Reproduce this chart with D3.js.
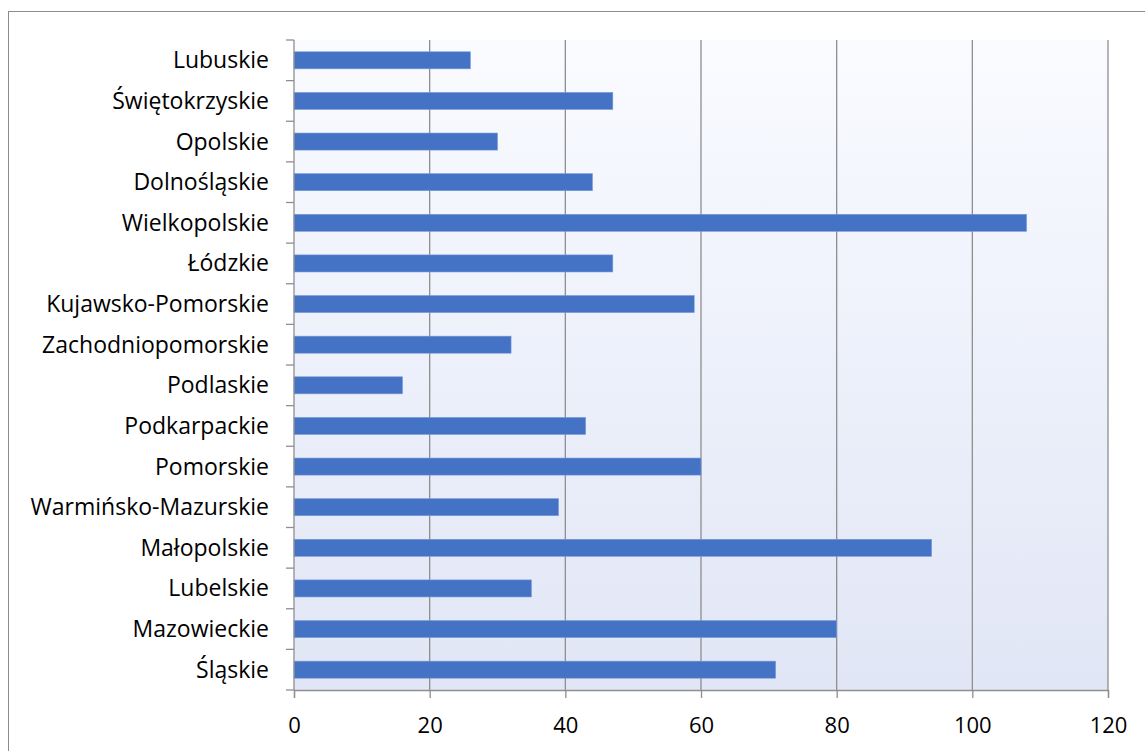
<!DOCTYPE html>
<html>
<head>
<meta charset="utf-8">
<script src="https://cdn.jsdelivr.net/npm/d3@7"></script>
<style>
  body { margin: 0; background: #fff; }
  svg { display: block; }
</style>
</head>
<body>
<svg id="BarChart"></svg>
<script>
// województwa, od góry do dołu
var regions = ["Lubuskie", "Świętokrzyskie", "Opolskie", "Dolnośląskie", "Wielkopolskie", "Łódzkie",
               "Kujawsko-Pomorskie", "Zachodniopomorskie", "Podlaskie", "Podkarpackie", "Pomorskie",
               "Warmińsko-Mazurskie", "Małopolskie", "Lubelskie", "Mazowieckie", "Śląskie"]
var counts = [26, 47, 30, 44, 108, 47, 59, 32, 16, 43, 60, 39, 94, 35, 80, 71]
var xTicks = [0, 20, 40, 60, 80, 100, 120]

var data = regions.map((r, i) => ({ region: r, value: counts[i] }))

var dimensions = {
    width: 1145,
    height: 751,
    margin: { top: 40, bottom: 61, left: 294, right: 37 }
}

var svg = d3.select("#BarChart")
            .attr("width", dimensions.width)
            .attr("height", dimensions.height)

var fontFamily = "'Open Sans', sans-serif"

// outer frame
svg.append("rect")
   .attr("x", 8.5).attr("y", 11.5)
   .attr("width", dimensions.width + 20).attr("height", dimensions.height + 20)
   .attr("fill", "white")
   .attr("stroke", "#8c8c8c")
   .attr("stroke-width", 1)

var x0 = dimensions.margin.left
var x1 = dimensions.width - dimensions.margin.right
var y0 = dimensions.margin.top
var y1 = dimensions.height - dimensions.margin.bottom

var xScale = d3.scaleLinear()
               .domain([0, 120])
               .range([x0, x1])

var yScale = d3.scaleBand()
               .domain(regions)
               .range([y0, y1])
               .paddingInner(0.58)
               .paddingOuter(0.29)

// plot background gradient
var grad = svg.append("defs").append("linearGradient")
              .attr("id", "bg").attr("x1", 0).attr("y1", 0).attr("x2", 0).attr("y2", 1)
grad.append("stop").attr("offset", "0%").attr("stop-color", "#f9fbff")
grad.append("stop").attr("offset", "100%").attr("stop-color", "#e1e6f6")

svg.append("rect")
   .attr("x", x0).attr("y", y0)
   .attr("width", x1 - x0).attr("height", y1 - y0)
   .attr("fill", "url(#bg)")

// vertical gridlines
svg.append("g")
   .selectAll("line")
   .data(xTicks.slice(1))
   .enter()
   .append("line")
   .attr("x1", d => xScale(d)).attr("x2", d => xScale(d))
   .attr("y1", y0).attr("y2", y1)
   .attr("stroke", "#8e8e8e")
   .attr("stroke-width", 1.3)

var bars = svg.append("g")
              .selectAll("rect")
              .data(data)
              .enter()
              .append("rect")
              .attr("x", xScale(0))
              .attr("y", d => yScale(d.region))
              .attr("width", d => xScale(d.value) - xScale(0))
              .attr("height", yScale.bandwidth())
              .attr("fill", "#4472c4")
              .attr("stroke", "#7c9ad6")
              .attr("stroke-width", 0.6)

// x axis
var xAxisGen = d3.axisBottom(xScale).tickValues(xTicks).tickSize(8).tickPadding(19)
var xAxis = svg.append("g")
               .attr("transform", `translate(0,${y1})`)
               .call(xAxisGen)
xAxis.select(".domain").attr("stroke", "#8e8e8e").attr("stroke-width", 1.3)
xAxis.selectAll(".tick line").attr("stroke", "#8e8e8e").attr("stroke-width", 1.3)
xAxis.selectAll("text")
     .attr("fill", "black")
     .style("font-family", fontFamily)
     .style("font-size", "22px")

// y axis: line + ticks at category boundaries
var step = yScale.step()
var boundaries = d3.range(regions.length + 1).map(i => y0 + i * step)
svg.append("line")
   .attr("x1", x0).attr("x2", x0).attr("y1", y0).attr("y2", y1)
   .attr("stroke", "#8e8e8e").attr("stroke-width", 1.3)
svg.append("g")
   .selectAll("line")
   .data(boundaries)
   .enter()
   .append("line")
   .attr("x1", x0 - 8).attr("x2", x0)
   .attr("y1", d => d).attr("y2", d => d)
   .attr("stroke", "#8e8e8e").attr("stroke-width", 1.3)

svg.append("g")
   .selectAll("text")
   .data(regions)
   .enter()
   .append("text")
   .attr("x", 269)
   .attr("y", d => yScale(d) + yScale.bandwidth() / 2)
   .attr("dy", "0.35em")
   .attr("text-anchor", "end")
   .attr("fill", "black")
   .style("font-family", fontFamily)
   .style("font-size", "23px")
   .text(d => d)
</script>
</body>
</html>
